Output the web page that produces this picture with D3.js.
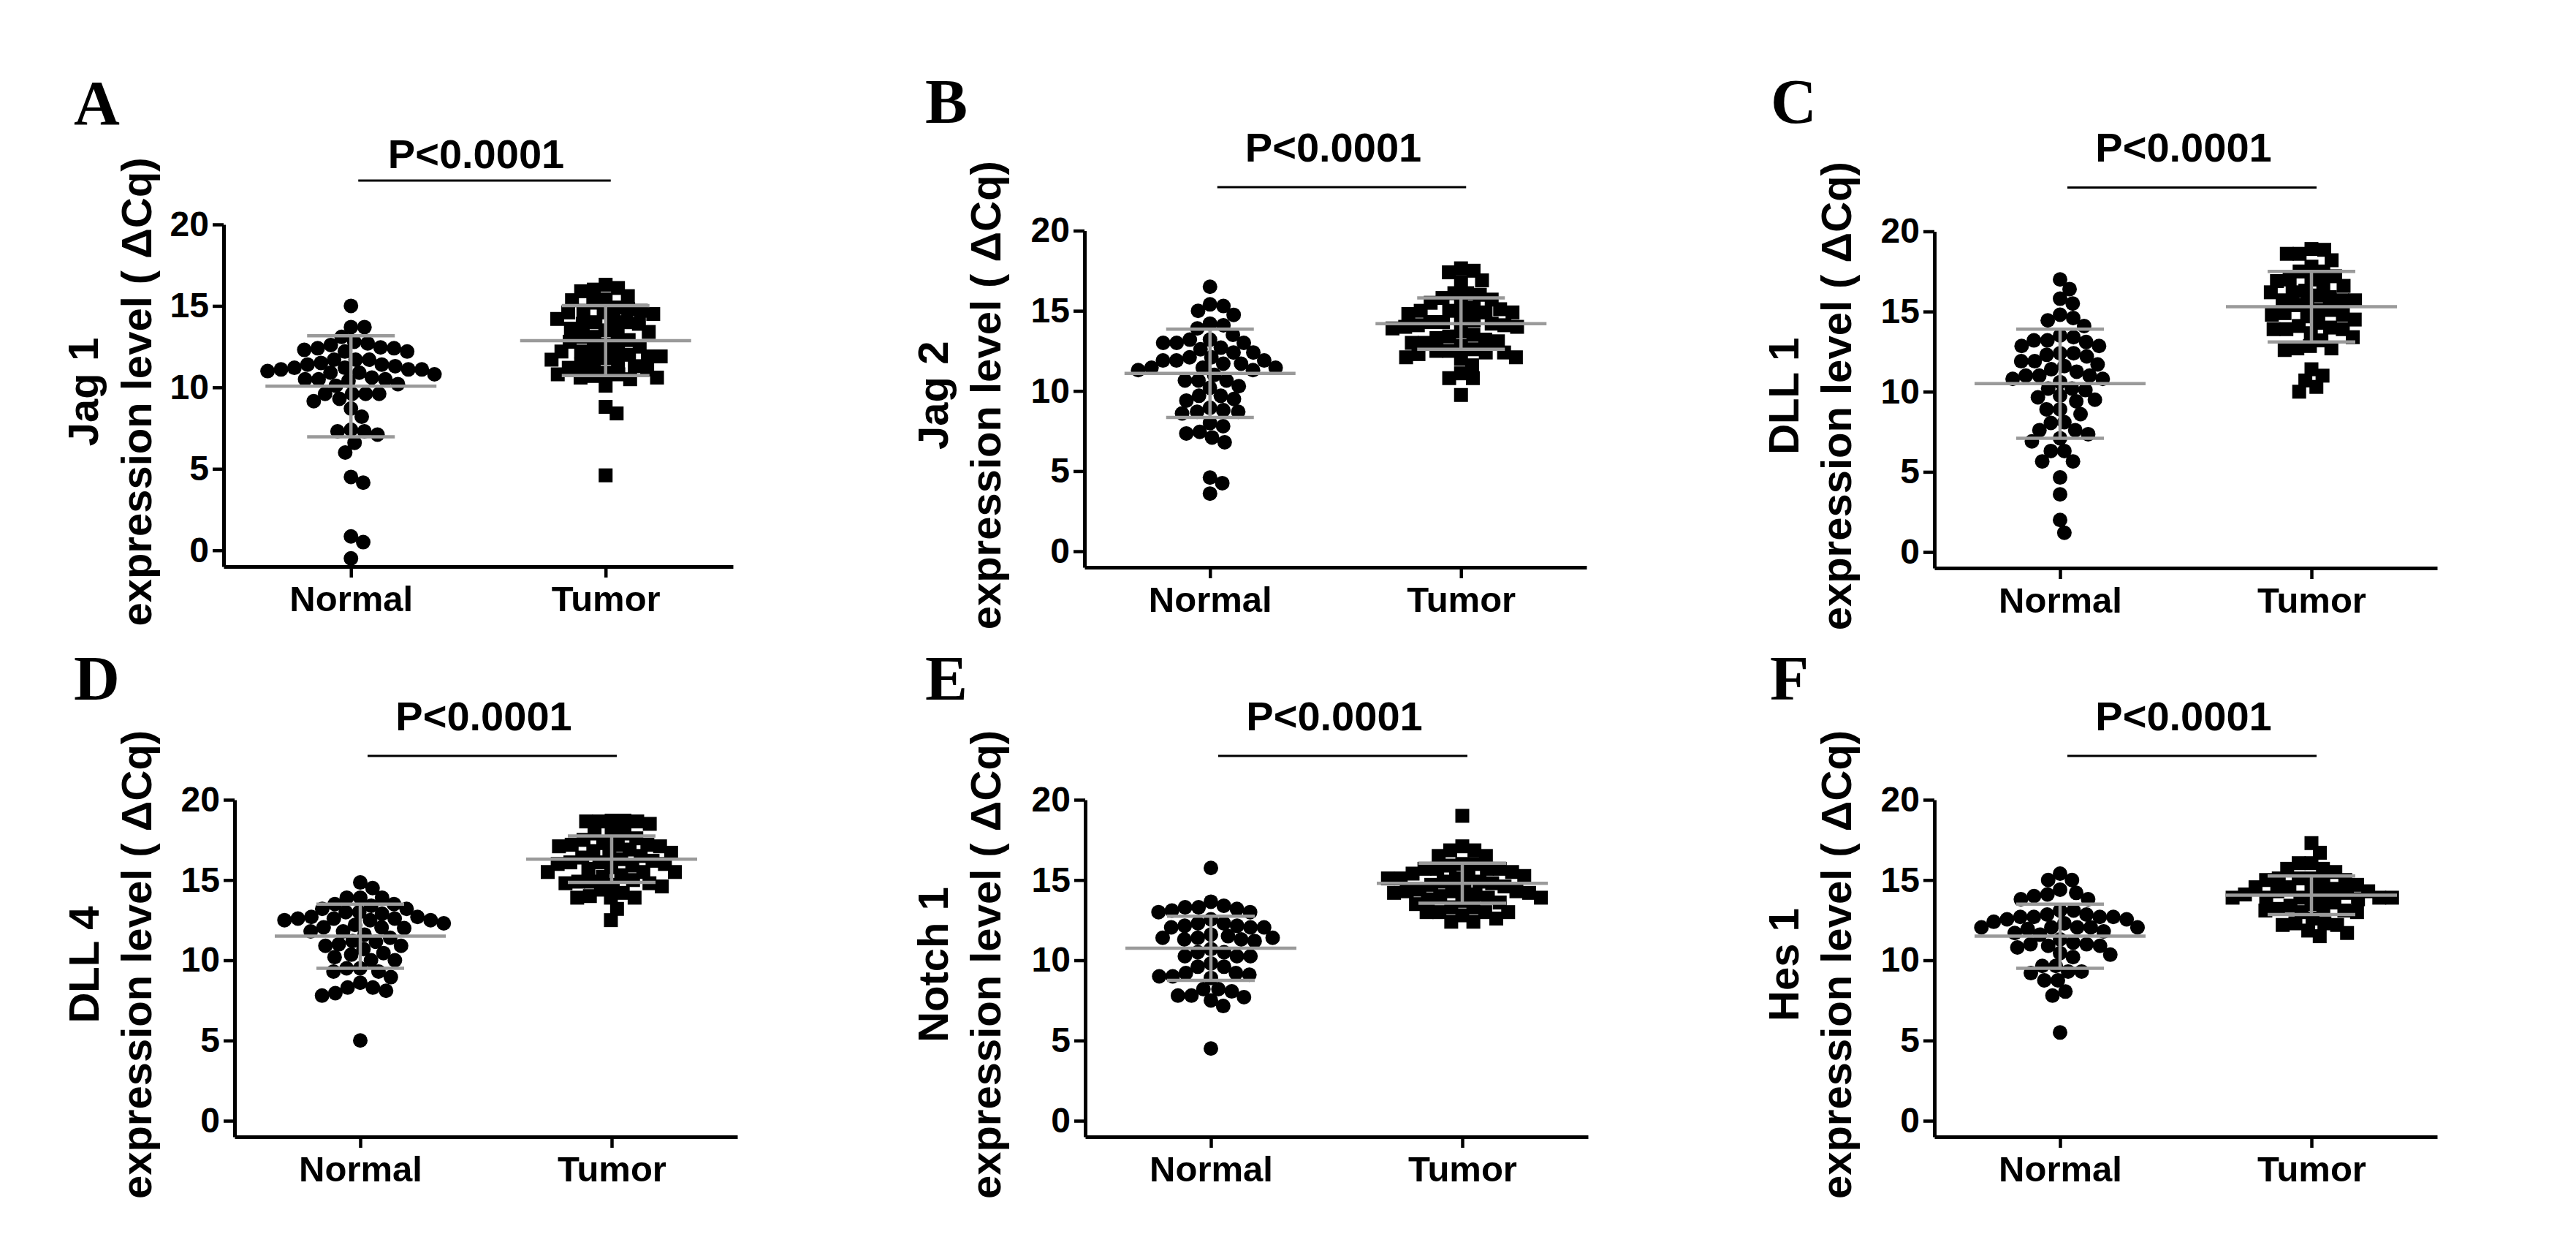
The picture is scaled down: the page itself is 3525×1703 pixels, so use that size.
<!DOCTYPE html>
<html>
<head>
<meta charset="utf-8">
<script src="https://cdnjs.cloudflare.com/ajax/libs/d3/7.8.5/d3.min.js"></script>
<style>
  body { margin: 0; background: #fff; }
  text { font-family: "Liberation Sans", Arial, sans-serif; font-weight: bold; fill: #000; }
</style>
</head>
<body>
<div id="fig"></div>
<script>
// ---- data ----
const PANEL_LETTERS = ["A", "B", "C", "D", "E", "F"];
const GENES = ["Jag 1", "Jag 2", "DLL 1", "DLL 4", "Notch 1", "Hes 1"];
const GROUPS = ["Normal", "Tumor"];
const Y_TICKS = [0, 5, 10, 15, 20];
const P_LABEL = "P<0.0001";
const Y_SUFFIX = "expression level ( ΔCq)";

const jag1Normal = [15.0,13.7,13.7,13.1,12.8,12.7,12.6,12.45,12.4,12.4,12.3,12.2,12.2,11.7,11.7,11.7,11.5,11.4,11.4,11.3,11.2,11.2,11.1,11.1,11.1,11.0,10.9,10.9,10.8,10.6,10.5,10.5,10.5,10.4,10.2,10.1,9.6,9.6,9.6,9.6,9.3,9.15,8.7,8.2,7.4,7.3,7.3,7.1,6.6,6.0,4.5,4.15,0.85,0.5,-0.5];
const jag1Tumor  = [16.3,16.1,16.0,15.9,15.6,15.4,15.35,15.2,14.9,14.8,14.7,14.7,14.6,14.6,14.5,14.2,14.1,14.0,14.0,13.9,13.9,13.6,13.5,13.4,13.3,13.1,13.1,12.9,12.8,12.6,12.5,12.4,12.3,12.2,12.2,12.0,11.9,11.9,11.8,11.7,11.6,11.5,11.4,11.3,11.2,11.1,10.9,10.8,10.8,10.7,10.6,10.6,10.5,10.1,8.8,8.4,4.6];
const jag2Normal = [16.5,15.4,15.3,15.0,14.75,14.2,14.1,13.9,13.5,13.2,13.2,13.0,13.0,13.0,12.7,12.6,12.4,12.4,12.1,12.1,11.9,11.9,11.9,11.7,11.7,11.45,11.45,11.45,11.3,11.3,11.0,10.65,10.65,10.65,10.3,10.2,9.7,9.7,9.5,9.4,8.95,8.8,8.7,8.7,8.6,8.0,7.8,7.45,7.35,7.1,6.8,4.6,4.25,3.6];
const jag2Tumor  = [17.65,17.5,17.4,16.9,16.8,16.1,16.1,16.0,15.8,15.7,15.5,15.3,15.2,15.1,15.0,15.0,14.9,14.9,14.8,14.5,14.4,14.3,14.3,14.2,14.1,14.1,14.0,14.0,13.9,13.7,13.5,13.4,13.3,13.2,13.1,13.0,13.0,12.8,12.6,12.5,12.5,12.4,12.4,12.3,12.1,12.1,12.0,11.6,11.1,10.8,10.8,9.75];
const dll1Normal = [17.0,16.4,15.8,15.5,14.8,14.6,14.45,14.1,13.5,13.4,13.2,13.2,13.1,12.85,12.85,12.4,12.4,12.3,12.2,11.9,11.9,11.7,11.6,11.4,11.25,11.0,11.0,11.0,10.8,10.8,10.6,10.2,10.2,10.1,9.75,9.65,9.5,9.4,8.9,8.9,8.6,8.1,8.05,7.6,7.6,7.35,7.1,6.9,6.3,6.3,5.65,5.65,4.65,3.6,2.0,1.2];
const dll1Tumor  = [18.9,18.85,18.6,18.6,18.2,17.8,17.5,17.5,17.2,17.0,17.0,16.9,16.7,16.6,16.3,16.2,16.2,16.0,15.9,15.7,15.7,15.7,15.5,15.4,15.1,15.1,14.9,14.8,14.8,14.7,14.5,14.3,14.1,14.0,13.9,13.9,13.9,13.65,13.4,13.2,12.85,12.7,12.7,12.6,11.4,11.0,10.7,10.3,10.0];
const dll4Normal = [14.85,14.5,13.9,13.9,13.9,13.5,13.5,13.4,13.2,13.2,13.0,13.0,12.9,12.7,12.7,12.6,12.6,12.6,12.5,12.5,12.5,12.3,12.2,12.05,12.05,12.0,11.8,11.8,11.6,11.4,11.2,11.15,11.0,10.9,10.9,10.7,10.45,10.35,10.2,10.0,10.0,9.5,9.5,9.3,9.3,8.95,8.6,8.3,8.3,8.1,7.95,7.8,5.0];
const dll4Tumor  = [18.7,18.7,18.65,18.65,18.65,18.5,17.9,17.9,17.9,17.6,17.5,17.3,17.2,17.2,17.2,17.1,17.1,16.9,16.8,16.7,16.6,16.5,16.4,16.3,16.2,16.1,16.1,16.0,16.0,15.9,15.8,15.7,15.5,15.5,15.5,15.3,15.2,15.0,14.9,14.9,14.8,14.8,14.7,14.6,14.4,14.2,14.0,13.9,13.9,13.9,13.2,12.5];
const notch1Normal = [15.75,13.65,13.4,13.3,13.3,13.2,13.1,13.0,13.0,12.55,12.3,12.3,12.15,12.15,12.05,12.05,12.05,11.6,11.5,11.4,11.4,11.4,11.3,11.3,11.2,10.7,10.5,10.5,10.25,10.25,10.25,9.8,9.6,9.6,9.2,9.2,9.1,9.0,9.0,8.9,8.2,8.2,8.06,7.8,7.8,7.7,7.5,7.15,4.5];
const notch1Tumor  = [19.0,17.1,16.85,16.85,16.5,16.5,16.0,16.0,15.9,15.7,15.7,15.7,15.7,15.5,15.4,15.3,15.25,15.1,15.1,15.1,14.9,14.9,14.8,14.7,14.6,14.5,14.4,14.3,14.3,14.3,14.2,14.2,14.1,14.0,13.9,13.9,13.8,13.7,13.6,13.5,13.3,13.3,13.0,13.0,13.0,13.0,12.8,12.6,12.4,12.4];
const hes1Normal = [15.4,15.0,15.0,14.4,14.2,14.1,14.0,13.8,13.8,13.1,13.1,12.85,12.85,12.7,12.7,12.7,12.7,12.55,12.55,12.4,12.3,12.05,12.05,12.05,12.05,12.05,11.95,11.8,11.7,11.6,11.3,11.1,11.0,11.0,10.9,10.9,10.8,10.45,10.35,10.2,9.65,9.65,9.3,9.3,9.2,8.75,8.75,8.05,7.8,5.5];
const hes1Tumor  = [17.3,16.7,16.05,16.05,15.7,15.7,15.5,15.1,15.1,15.1,15.0,15.0,14.8,14.7,14.55,14.55,14.45,14.3,14.3,14.3,14.2,14.1,14.0,13.9,13.9,13.9,13.9,13.9,13.8,13.6,13.5,13.4,13.2,13.2,13.1,13.1,13.0,13.0,12.6,12.3,12.3,12.2,12.2,11.85,11.7,11.5];

// mean and SD bars as drawn (Normal, Tumor)
const GROUP_MEANS = [[10.07, 12.87], [11.1, 14.2], [10.5, 15.3], [11.5, 16.3], [10.75, 14.8], [11.5, 14.05]];
const GROUP_SDS   = [[3.1, 2.15], [2.75, 1.6], [3.4, 2.2], [2.0, 1.45], [2.0, 1.25], [2.0, 1.2]];

const SERIES = [
  [jag1Normal, jag1Tumor], [jag2Normal, jag2Tumor], [dll1Normal, dll1Tumor],
  [dll4Normal, dll4Tumor], [notch1Normal, notch1Tumor], [hes1Normal, hes1Tumor]
];

// ---- layout (pixels) ----
const LAYOUT = [
  { left: 306,  right: 1003, top: 307,   bottom: 775,  pLine: 247,   pText: 230,  lx: 101,  ly: 170, lab1: 134,  lab2: 207 },
  { left: 1484, right: 2171, top: 315.5, bottom: 776,  pLine: 256,   pText: 221,  lx: 1266, ly: 168, lab1: 1297, lab2: 1369 },
  { left: 2647, right: 3335, top: 316.5, bottom: 777,  pLine: 256.5, pText: 221,  lx: 2423, ly: 168, lab1: 2461, lab2: 2533 },
  { left: 321,  right: 1009, top: 1094,  bottom: 1555, pLine: 1034,  pText: 999,  lx: 101,  ly: 957, lab1: 135,  lab2: 207 },
  { left: 1485, right: 2173, top: 1094,  bottom: 1555, pLine: 1034,  pText: 999,  lx: 1266, ly: 957, lab1: 1297, lab2: 1369 },
  { left: 2647, right: 3335, top: 1094,  bottom: 1555, pLine: 1034,  pText: 999,  lx: 2422, ly: 957, lab1: 2461, lab2: 2533 }
];
const DOT_R = 10, SQ = 19, GREY = "#9a9a9a";

const svg = d3.select("#fig").append("svg")
  .attr("width", 3525).attr("height", 1703)
  .style("background", "#fff");

// simple beeswarm: keep y, push x sideways until the marks only overlap a little
function swarm(vals, y, gap) {
  const placed = [];
  vals.map(v => ({ v, py: y(v) }))
    .sort((a, b) => a.py - b.py)
    .forEach(pt => {
      const near = placed.filter(q => Math.abs(q.py - pt.py) < gap);
      const cands = [0];
      near.forEach(q => {
        const dx = Math.sqrt(gap * gap - (q.py - pt.py) ** 2);
        cands.push(q.dx + dx, q.dx - dx);
      });
      cands.sort((a, b) => Math.abs(a) - Math.abs(b));
      pt.dx = cands.find(c => near.every(q => (q.dx - c) ** 2 + (q.py - pt.py) ** 2 >= gap * gap - 0.5));
      placed.push(pt);
    });
  return placed;
}

PANEL_LETTERS.forEach((letter, i) => {
  const L = LAYOUT[i];
  const g = svg.append("g");
  const x = d3.scalePoint().domain(GROUPS).range([L.left, L.right]).padding(0.5);
  const y = d3.scaleLinear().domain([-1, 20]).range([L.bottom, L.top]);

  // axes
  const ya = g.append("g").attr("transform", `translate(${L.left},0)`)
    .call(d3.axisLeft(y).tickValues(Y_TICKS).tickSize(15).tickSizeOuter(0).tickPadding(5));
  const xa = g.append("g").attr("transform", `translate(0,${L.bottom})`)
    .call(d3.axisBottom(x).tickSize(15).tickSizeOuter(0).tickPadding(11));
  [ya, xa].forEach(a => {
    a.select(".domain").attr("stroke", "#000").attr("stroke-width", 5);
    a.selectAll(".tick line").attr("stroke", "#000").attr("stroke-width", 4.5);
    a.selectAll("text").attr("fill", "#000").style("font-weight", "bold")
      .style("font-family", '"Liberation Sans", Arial, sans-serif');
  });
  ya.selectAll("text").style("font-size", "48px");
  xa.selectAll("text").style("font-size", "49px");

  // points
  SERIES[i].forEach((vals, gi) => {
    const cx = x(GROUPS[gi]);
    const pts = swarm(vals, y, gi === 0 ? 18.5 : 17.5);
    if (gi === 0) {
      g.selectAll(null).data(pts).enter().append("circle")
        .attr("cx", d => cx + d.dx).attr("cy", d => d.py).attr("r", DOT_R).attr("fill", "#000");
    } else {
      g.selectAll(null).data(pts).enter().append("rect")
        .attr("x", d => cx + d.dx - SQ / 2).attr("y", d => d.py - SQ / 2)
        .attr("width", SQ).attr("height", SQ).attr("fill", "#000");
    }
    // mean +/- SD
    const m = GROUP_MEANS[i][gi], sd = GROUP_SDS[i][gi];
    const bars = [
      [cx - 117, y(m), cx + 117, y(m)],
      [cx, y(m - sd), cx, y(m + sd)],
      [cx - 60, y(m + sd), cx + 60, y(m + sd)],
      [cx - 60, y(m - sd), cx + 60, y(m - sd)]
    ];
    g.selectAll(null).data(bars).enter().append("line")
      .attr("x1", d => d[0]).attr("y1", d => d[1]).attr("x2", d => d[2]).attr("y2", d => d[3])
      .attr("stroke", GREY).attr("stroke-width", 4.5);
  });

  // significance line and label
  const xn = x(GROUPS[0]), xt = x(GROUPS[1]);
  g.append("line").attr("x1", xn + 10).attr("x2", xt + 7).attr("y1", L.pLine).attr("y2", L.pLine)
    .attr("stroke", "#000").attr("stroke-width", 3);
  g.append("text").attr("x", (xn + xt) / 2 - 3).attr("y", L.pText)
    .attr("text-anchor", "middle").style("font-size", "56px").text(P_LABEL);

  // panel letter
  g.append("text").attr("x", L.lx).attr("y", L.ly)
    .style("font-family", '"Liberation Serif", "Times New Roman", serif')
    .style("font-size", "87px").text(letter);

  // y axis title, two lines
  const cy = (L.top + L.bottom) / 2 - 5;
  [[L.lab1, GENES[i]], [L.lab2, Y_SUFFIX]].forEach(([bx, t]) => {
    g.append("text").attr("transform", `translate(${bx},${cy}) rotate(-90)`)
      .attr("text-anchor", "middle").style("font-size", "58px").text(t);
  });
});
</script>
</body>
</html>
